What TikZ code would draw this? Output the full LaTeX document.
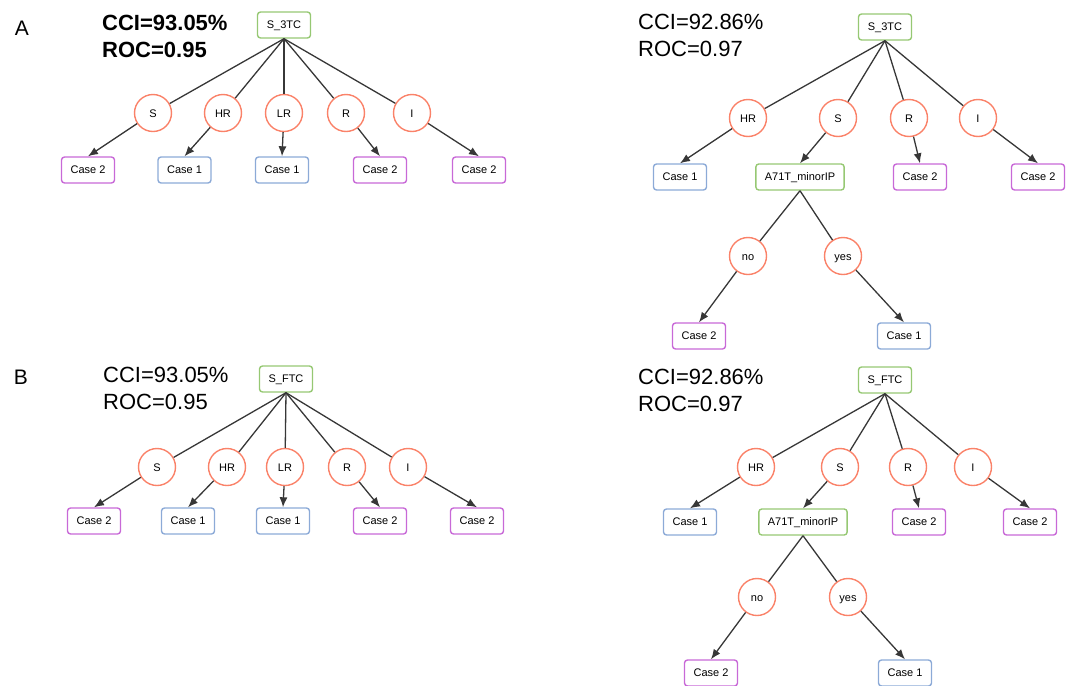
\documentclass[tikz,border=0pt]{standalone}
\usepackage{fontspec}
\setmainfont{Liberation Sans}
\usetikzlibrary{arrows.meta}
\definecolor{splitgreen}{RGB}{150,200,115}
\definecolor{valuered}{RGB}{250,130,105}
\definecolor{caseblue}{RGB}{140,170,215}
\definecolor{casepurple}{RGB}{200,105,215}
\definecolor{edgegray}{RGB}{55,55,55}
\begin{document}
\begin{tikzpicture}[x=1pt,y=-1pt,
  box/.style={draw,line width=1.4pt,rounded corners=3pt,minimum height=26pt,
    minimum width=53pt,inner xsep=9pt,text height=8pt,text depth=1pt,
    font=\fontsize{11}{12}\selectfont},
  split/.style={box,draw=splitgreen},
  value/.style={circle,draw=valuered,line width=1.4pt,minimum size=37pt,
    inner sep=0pt,text height=8pt,text depth=0pt,font=\fontsize{11}{12}\selectfont},
  edge/.style={draw=edgegray,line width=1.3pt},
  arc/.style={edge,-{Latex[length=10pt,width=8pt]}},
  score/.style={anchor=west,align=left,inner sep=0pt,font=\fontsize{22}{27}\selectfont},
  panel/.style={font=\fontsize{21}{24}\selectfont}]
  \useasboundingbox (0,0) rectangle (1072,686);
  \node[panel] (pa) at (22,28) {A};
  \node[panel] (pb) at (21,377) {B};
  % tree A, left
  \node[score,font=\fontsize{22}{27}\selectfont\bfseries] (alscore) at (102,36.5) {CCI=93.05\%\\ROC=0.95};
  \node[split] (alroot) at (284,25) {S\_3TC};
  \foreach \i/\x/\t in {1/153/S,2/223/HR,3/284/LR,4/346/R,5/412/I}
    \node[value] (alv\i) at (\x,113) {\t};
  \foreach \i/\x/\c/\t in {1/88/casepurple/2,2/184.5/caseblue/1,3/282/caseblue/1,
                           4/380/casepurple/2,5/479/casepurple/2}
    \node[box,draw=\c] (all\i) at (\x,170) {Case \t};
  \foreach \i in {1,...,5}{
    \draw[edge] (alroot.south) -- (alv\i);
    \draw[arc] (alv\i) -- (all\i.north);
  }
  % tree A, right
  \node[score] (arscore) at (638,35.5) {CCI=92.86\%\\ROC=0.97};
  \node[split] (arroot) at (885,27) {S\_3TC};
  \foreach \i/\x/\t in {1/748/HR,2/838/S,3/909/R,4/978/I}
    \node[value] (arv\i) at (\x,118) {\t};
  \node[box,draw=caseblue] (arl1) at (680,177) {Case 1};
  \node[split] (arl2) at (800,177) {A71T\_minorIP};
  \node[box,draw=casepurple] (arl3) at (920,177) {Case 2};
  \node[box,draw=casepurple] (arl4) at (1038,177) {Case 2};
  \foreach \i in {1,...,4}{
    \draw[edge] (arroot.south) -- (arv\i);
    \draw[arc] (arv\i) -- (arl\i.north);
  }
  \node[value] (arno) at (748,256) {no};
  \node[value] (aryes) at (843,256) {yes};
  \node[box,draw=casepurple] (arnol) at (699,336) {Case 2};
  \node[box,draw=caseblue] (aryesl) at (904,336) {Case 1};
  \draw[edge] (arl2.south) -- (arno);
  \draw[edge] (arl2.south) -- (aryes);
  \draw[arc] (arno) -- (arnol.north);
  \draw[arc] (aryes) -- (aryesl.north);
  % tree B, left
  \node[score] (blscore) at (103,388) {CCI=93.05\%\\ROC=0.95};
  \node[split] (blroot) at (286,379) {S\_FTC};
  \foreach \i/\x/\t in {1/157/S,2/227/HR,3/285/LR,4/347/R,5/408/I}
    \node[value] (blv\i) at (\x,467) {\t};
  \foreach \i/\x/\c/\t in {1/94/casepurple/2,2/188/caseblue/1,3/283/caseblue/1,
                           4/380/casepurple/2,5/477/casepurple/2}
    \node[box,draw=\c] (bll\i) at (\x,521) {Case \t};
  \foreach \i in {1,...,5}{
    \draw[edge] (blroot.south) -- (blv\i);
    \draw[arc] (blv\i) -- (bll\i.north);
  }
  % tree B, right
  \node[score] (brscore) at (638,390) {CCI=92.86\%\\ROC=0.97};
  \node[split] (brroot) at (885,380) {S\_FTC};
  \foreach \i/\x/\t in {1/756/HR,2/840/S,3/908/R,4/973/I}
    \node[value] (brv\i) at (\x,467) {\t};
  \node[box,draw=caseblue] (brl1) at (690,522) {Case 1};
  \node[split] (brl2) at (803,522) {A71T\_minorIP};
  \node[box,draw=casepurple] (brl3) at (919,522) {Case 2};
  \node[box,draw=casepurple] (brl4) at (1030,522) {Case 2};
  \foreach \i in {1,...,4}{
    \draw[edge] (brroot.south) -- (brv\i);
    \draw[arc] (brv\i) -- (brl\i.north);
  }
  \node[value] (brno) at (757,597) {no};
  \node[value] (bryes) at (848,597) {yes};
  \node[box,draw=casepurple] (brnol) at (711,673) {Case 2};
  \node[box,draw=caseblue] (bryesl) at (905,673) {Case 1};
  \draw[edge] (brl2.south) -- (brno);
  \draw[edge] (brl2.south) -- (bryes);
  \draw[arc] (brno) -- (brnol.north);
  \draw[arc] (bryes) -- (bryesl.north);
\end{tikzpicture}
\end{document}
